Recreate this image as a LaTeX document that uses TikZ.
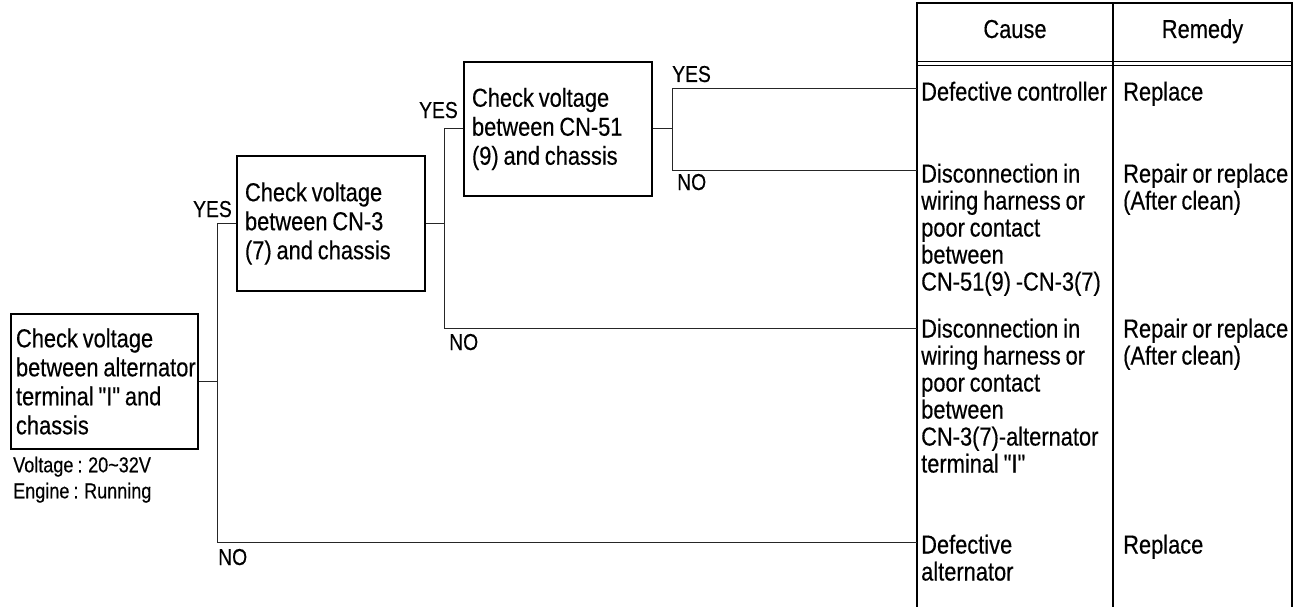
\documentclass[tikz,border=0pt]{standalone}
\usepackage{fontspec}
\setmainfont{Liberation Sans}[Ligatures=TeXOff,FakeStretch=0.84,WordSpace=0.8,FakeBold=0.4]
\newcommand\fmain{\fontsize{26}{29}\selectfont}
\newcommand\ftab{\fontsize{26}{27}\selectfont}
\newcommand\flab{\fontsize{23}{24}\selectfont}
\newcommand\fsmall{\fontsize{21.5}{26}\selectfont}
\begin{document}
\begin{tikzpicture}[x=1pt,y=-1pt,
  box/.style={draw, line width=1.4pt, inner ysep=0pt, align=flush left, font=\fmain},
  conn/.style={line width=1pt, draw=black!85},
  tabline/.style={line width=1.4pt},
  cell/.style={anchor=north west, inner sep=0pt, align=left, font=\ftab},
  lab/.style={inner sep=0pt, font=\flab},
  note/.style={anchor=north west, inner sep=0pt, align=left, font=\fsmall}]
\useasboundingbox (0,0) rectangle (1300,607);

% decision boxes
\node[box, inner xsep=5pt, text width=177pt, minimum height=135pt] (b1) at (104.5,381.5)
  {Check voltage\\\mbox{between alternator}\\terminal "I" and\\chassis};
\node[box, inner xsep=8pt, text width=172pt, minimum height=135pt] (b2) at (331,223.5)
  {Check voltage\\between CN-3\\(7) and chassis};
\node[box, inner xsep=8pt, text width=172pt, minimum height=134pt] (b3) at (558,129)
  {Check voltage\\between CN-51\\(9) and chassis};

\node[note] (spec) at (13,456.5) {Voltage : 20\char`~32V\\Engine : Running};

% table frame
\draw[tabline] (917,607) -- (917,3) -- (1292,3) -- (1292,607);
\draw[tabline] (1113,3) -- (1113,607);
\draw[line width=1pt] (917,62) -- (1292,62);
\draw[line width=1pt] (917,65.5) -- (1292,65.5);

\node[lab, anchor=base, font=\ftab] (hc) at (1015,38) {Cause};
\node[lab, anchor=base, font=\ftab] (hr) at (1202.5,38) {Remedy};

% table rows
\coordinate (t1) at (917,89);
\coordinate (t2) at (917,170);
\coordinate (t3) at (917,328);
\coordinate (t4) at (917,542);

\node[cell] (c1) at (921,81.5) {Defective controller};
\node[cell] (m1) at (1123,81.5) {Replace};
\node[cell] (c2) at (921,163.5) {Disconnection in\\wiring harness or\\poor contact\\between\\CN-51(9) -CN-3(7)};
\node[cell] (m2) at (1123,163.5) {Repair or replace\\(After clean)};
\node[cell] (c3) at (921,318.5) {Disconnection in\\wiring harness or\\poor contact\\between\\CN-3(7)-alternator\\terminal "I"};
\node[cell] (m3) at (1123,318.5) {Repair or replace\\(After clean)};
\node[cell] (c4) at (921,534.5) {Defective\\alternator};
\node[cell] (m4) at (1123,534.5) {Replace};

% junction columns
\coordinate (v1) at (217,0);
\coordinate (v2) at (444,0);
\coordinate (v3) at (672,0);

% connectors
\draw[conn] (b1.east) -- (b1.east -| v1);
\draw[conn] (b2.west) -| (v1 |- t4) -- (t4);
\draw[conn] (b2.east) -- (b2.east -| v2);
\draw[conn] (b3.west) -| (v2 |- t3) -- (t3);
\draw[conn] (b3.east) -- (b3.east -| v3);
\draw[conn] (t1) -| (v3 |- t2) -- (t2);

% YES / NO labels
\node[lab, anchor=base east] (y1) at (232,217) {YES};
\node[lab, anchor=base west] (n1) at (218,565) {NO};
\node[lab, anchor=base east] (y2) at (458,118) {YES};
\node[lab, anchor=base west] (n2) at (449,350) {NO};
\node[lab, anchor=base west] (y3) at (672,82) {YES};
\node[lab, anchor=base west] (n3) at (677,190) {NO};
\end{tikzpicture}
\end{document}
